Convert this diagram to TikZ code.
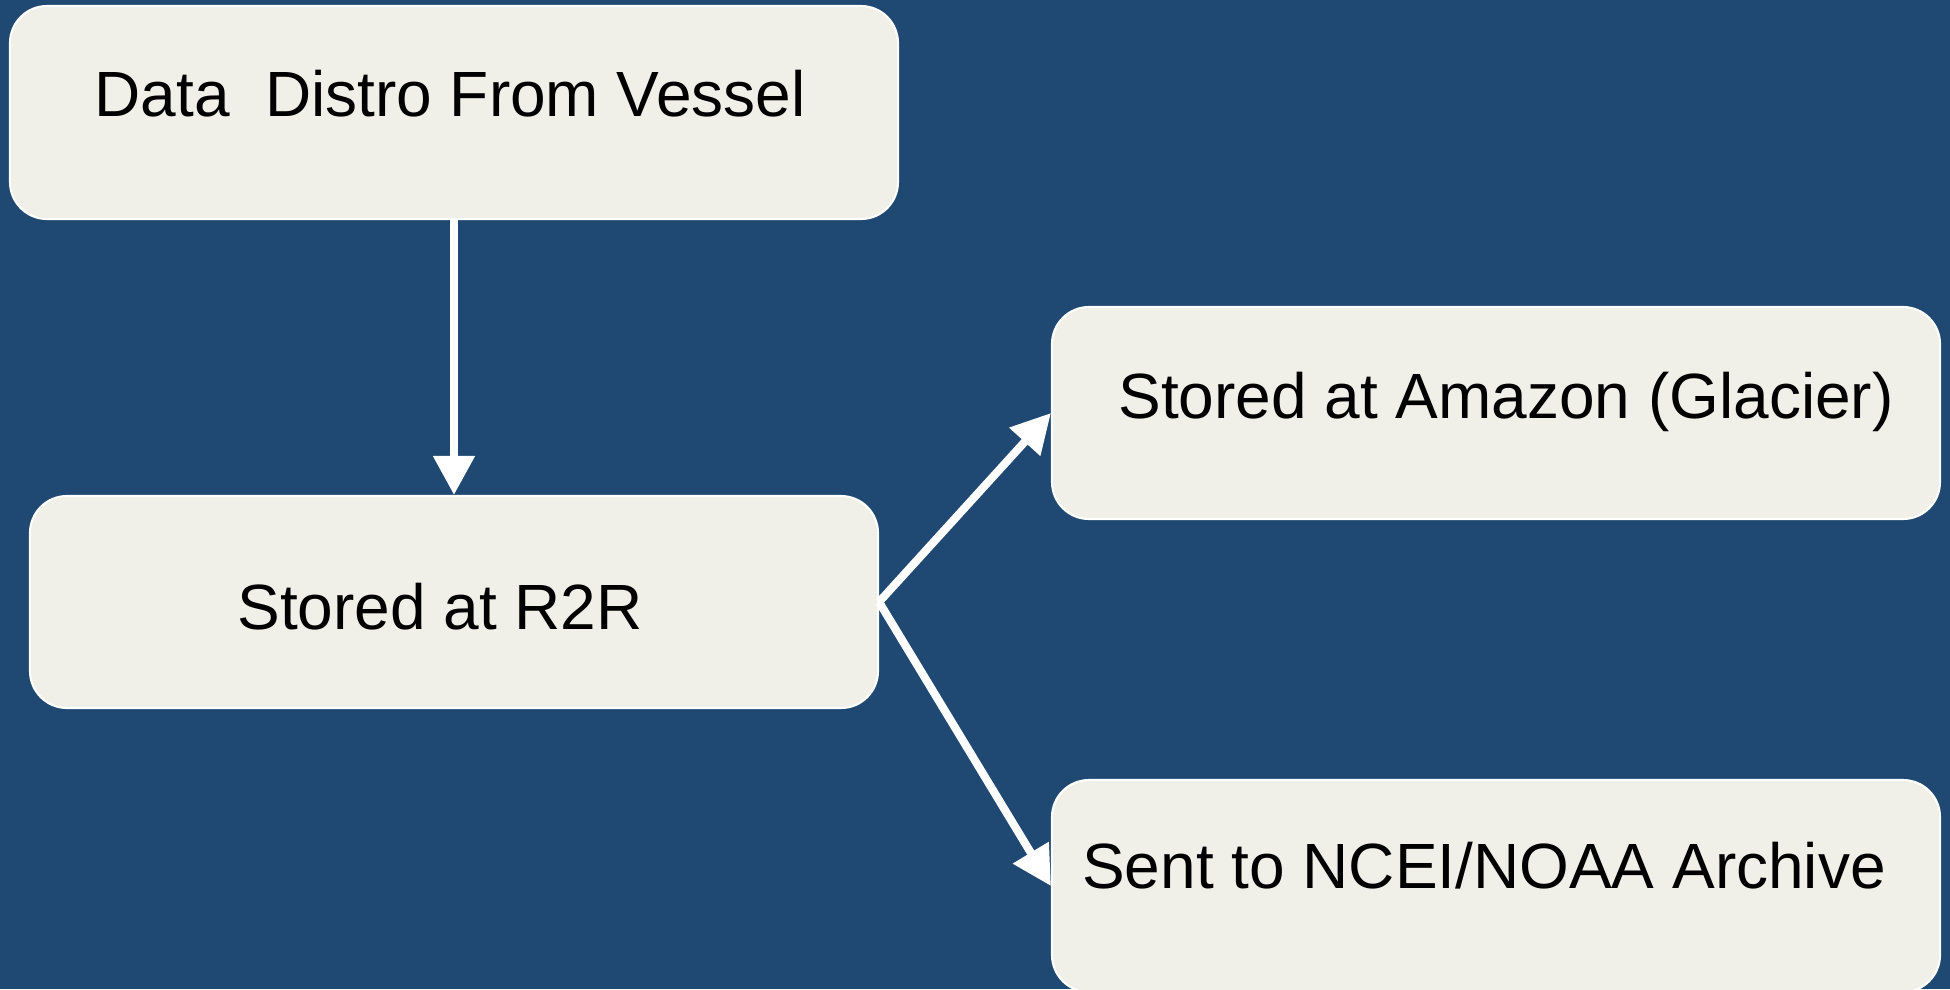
\documentclass[tikz,border=0pt]{standalone}
\usepackage{fontspec}
\setmainfont{Liberation Sans}
\usepackage{tikz}
\usetikzlibrary{
    positioning,
    backgrounds,
    arrows.meta
    }

\definecolor{sea}{RGB}{31,72,114}
\definecolor{paper}{RGB}{240,240,232}

\begin{document}
\begin{tikzpicture}
\tikzset{stage/.style =
        {
            rectangle,
            rounded corners=0.37cm,
            draw=white,
            line width=0.6pt,
            fill=paper,
            inner sep=0cm
        }
}

\tikzset{caption/.style =
        {
            anchor=base,
            inner sep=0cm,
            text=black,
            font=\fontsize{18.2}{22}\selectfont
        }
}

\tikzset{flow/.style = {
            line width=2.3pt,
            white,
            -{Triangle[length=0.39cm, width=0.40cm]}
        }
}

		\useasboundingbox[fill=sea] (0,0) rectangle (19.5,-9.89);

		\node[stage, minimum width=8.88cm, minimum height=2.13cm] (vessel) at (4.54,-1.125) {};
		\node[stage, minimum width=8.48cm, minimum height=2.12cm] (r2r) at (4.54,-6.02) {};
		\node[stage, minimum width=8.88cm, minimum height=2.12cm] (glacier) at (14.96,-4.13) {};
		\node[stage, minimum width=8.88cm, minimum height=2.12cm] (ncei) at (14.96,-8.86) {};

		\node[caption] (vessel-text) at ([shift={(-0.04,-0.035)}]vessel.center) {Data\ \ Distro From Vessel};
		\node[caption] (r2r-text) at ([shift={(-0.14,-0.27)}]r2r.center) {Stored at R2R};
		\node[caption] (glacier-text) at ([shift={(0.10,-0.05)}]glacier.center) {Stored at Amazon (Glacier)};
		\node[caption] (ncei-text) at ([shift={(-0.12,-0.02)}]ncei.center) {Sent to NCEI/NOAA Archive};

		\foreach \start / \finish in
			{vessel.south/r2r.north,
				r2r.east/glacier.west,
				r2r.east/ncei.west}
			{
				\draw [flow] (\start) -- (\finish);
			}

	\end{tikzpicture}
\end{document}
